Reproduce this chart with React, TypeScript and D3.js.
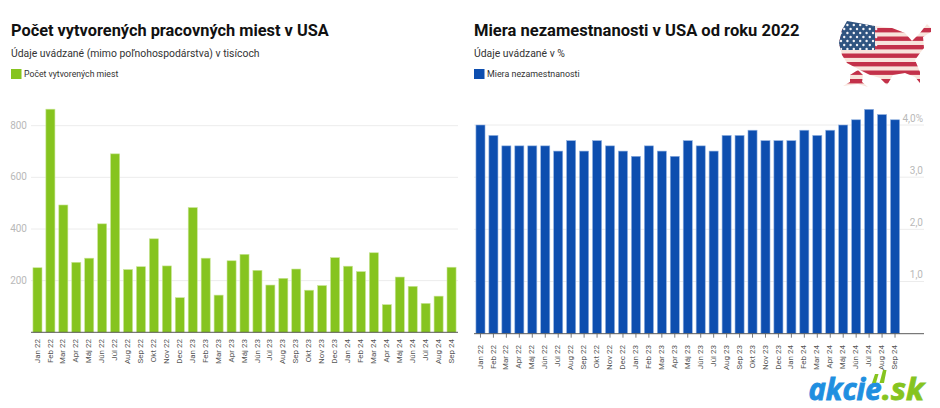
import * as d3 from 'd3';

const months = [
  'Jan 22', 'Feb 22', 'Mar 22', 'Apr 22', 'Máj 22', 'Jún 22', 'Júl 22', 'Aug 22', 'Sep 22', 'Okt 22', 'Nov 22', 'Dec 22',
  'Jan 23', 'Feb 23', 'Mar 23', 'Apr 23', 'Máj 23', 'Jún 23', 'Júl 23', 'Aug 23', 'Sep 23', 'Okt 23', 'Nov 23', 'Dec 23',
  'Jan 24', 'Feb 24', 'Mar 24', 'Apr 24', 'Máj 24', 'Jún 24', 'Júl 24', 'Aug 24', 'Sep 24',
];

const jobs = [
  250, 864, 493, 271, 287, 420, 691, 243, 254, 362, 257, 134,
  483, 287, 144, 277, 302, 240, 183, 209, 245, 163, 181, 289,
  256, 235, 308, 107, 214, 178, 112, 140, 252,
];

const unemployment = [
  4.0, 3.8, 3.6, 3.6, 3.6, 3.6, 3.5, 3.7, 3.5, 3.7, 3.6, 3.5,
  3.4, 3.6, 3.5, 3.4, 3.7, 3.6, 3.5, 3.8, 3.8, 3.9, 3.7, 3.7,
  3.7, 3.9, 3.8, 3.9, 4.0, 4.1, 4.3, 4.2, 4.1,
];

const jobsTicks = [200, 400, 600, 800];
const unemploymentTicks = [1, 2, 3, 4];

const FONT = 'Roboto, sans-serif';

function BarPanel({
  title,
  titleSize,
  subtitle,
  legend,
  legendSize,
  values,
  ticks,
  tickLabel,
  domain,
  color,
  border,
  textX,
  left,
  bandRight,
  lineRight,
  yBase,
  yTop,
  labelTop,
  labelRight,
  showTicks,
}: {
  title: string;
  titleSize: number;
  subtitle: string;
  legend: string;
  legendSize: number;
  values: number[];
  ticks: number[];
  tickLabel: (t: number) => string;
  domain: number;
  color: string;
  border: string;
  textX: number;
  left: number;
  bandRight: number;
  lineRight: number;
  yBase: number;
  yTop: number;
  labelTop: number;
  labelRight: boolean;
  showTicks: boolean;
}) {
  const x = d3.scaleBand<string>().domain(months).range([left, bandRight]).paddingInner(0.3).paddingOuter(0.15);
  const y = d3.scaleLinear().domain([0, domain]).range([yBase, yTop]);

  return (
    <g>
      <text x={textX} y={36} fontSize={titleSize} fontWeight={700} fill="#111">{title}</text>
      <text x={textX} y={57} fontSize={10.4} fill="#333">{subtitle}</text>
      <rect x={textX} y={69} width={10.5} height={10} fill={color} />
      <text x={textX + 13} y={77} fontSize={legendSize} fill="#333">{legend}</text>

      {ticks.map(t => (
        <g key={t}>
          <line x1={left} x2={lineRight} y1={y(t)} y2={y(t)} stroke="#ececec" strokeWidth={1} />
          <text
            x={labelRight ? lineRight - 1 : left - 4}
            y={labelRight ? y(t) - 6 : y(t) + 0.5}
            textAnchor="end"
            dominantBaseline="middle"
            fontSize={10}
            fill="#b9b9b9"
          >
            {tickLabel(t)}
          </text>
        </g>
      ))}

      {values.map((v, i) => (
        <rect
          key={months[i]}
          x={x(months[i])}
          y={y(v)}
          width={x.bandwidth()}
          height={yBase - y(v)}
          fill={color}
          stroke={border}
          strokeWidth={0.6}
        />
      ))}

      <line x1={left} x2={lineRight} y1={yBase} y2={yBase} stroke="#5a5a5a" strokeWidth={1} />

      {months.map(m => {
        const cx = (x(m) as number) + x.bandwidth() / 2;
        return (
          <g key={m} transform={`translate(${cx},${labelTop})`}>
            {showTicks && <line y1={yBase - labelTop} y2={yBase - labelTop + 4} stroke="#5a5a5a" strokeWidth={0.8} />}
            <text
              transform="rotate(-90)"
              textAnchor="end"
              dominantBaseline="middle"
              fontSize={8}
              fill="#555"
            >
              {m}
            </text>
          </g>
        );
      })}
    </g>
  );
}

// Decorative flag-shaped map in the top right corner
const MAP_MAIN = 'M847 21 L875 26 L892 28 L905 33 L912 41 L920 33 L927 24 L931 28 L931 32 L923 37 L924 48 L920 53 L915 60 L920 72 L920 83 L915 77 L905 73 L893 75 L887 85 L880 78 L870 75 L860 70 L847 63 L842 55 L839 43 L842 30 Z';
const MAP_ALASKA = 'M850 75 L858 70 L863 75 L862 82 L868 87 L858 84 L843 86 L850 82 Z';
const stripeRows = d3.range(0, 8);
const starRows = d3.range(0, 7);
const starCols = d3.range(0, 6);

function FlagMap() {
  return (
    <g>
      <defs>
        <clipPath id="usa">
          <path d={MAP_MAIN} />
          <path d={MAP_ALASKA} />
        </clipPath>
      </defs>
      <g clipPath="url(#usa)">
        <rect x={835} y={18} width={100} height={75} fill="#f8e4dc" />
        {stripeRows.map(i => (
          <rect key={i} x={835} y={28 + i * 8.5} width={100} height={4.4} fill="#c3314a" />
        ))}
        <rect x={835} y={18} width={40} height={32} fill="#2f5480" />
        {starRows.map(r =>
          starCols.map(c => (
            <circle
              key={`${r}-${c}`}
              cx={841 + c * 6.4 + (r % 2 ? 3.2 : 0)}
              cy={25 + r * 4}
              r={1.2}
              fill="#f3f3f6"
            />
          )),
        )}
      </g>
    </g>
  );
}

function Logo() {
  return (
    <g fontFamily="'Open Sans', sans-serif" fontWeight={700} fontStyle="italic" fontSize={30} strokeWidth={0.9}>
      <text x={808.5} y={400} textLength={73} lengthAdjust="spacingAndGlyphs" fill="#1f8fe0" stroke="#1f8fe0">akcie</text>
      <text x={882} y={400} textLength={42} lengthAdjust="spacingAndGlyphs" fill="#86c41f" stroke="#86c41f">.sk</text>
      <path d="M872 383 L875 374 L878.5 374 L876 383 Z" fill="#86c41f" />
      <path d="M879.5 383 L883 370 L886.5 370 L884 383 Z" fill="#86c41f" />
    </g>
  );
}

export default function App() {
  return (
    <svg
      width={940}
      height={408}
      style={{ position: 'absolute', top: 0, left: 0, display: 'block', background: '#fff' }}
      fontFamily={FONT}
    >
      <BarPanel
        title="Počet vytvorených pracovných miest v USA"
        titleSize={16.35}
        subtitle="Údaje uvádzané (mimo poľnohospodárstva) v tisícoch"
        legend="Počet vytvorených miest"
        legendSize={8.7}
        values={jobs}
        ticks={jobsTicks}
        tickLabel={t => String(t)}
        domain={800}
        color="#86c41f"
        border="#c9e596"
        textX={11}
        left={31}
        bandRight={458}
        lineRight={458}
        yBase={332.3}
        yTop={125.7}
        labelTop={339}
        labelRight={false}
        showTicks={false}
      />
      <BarPanel
        title="Miera nezamestnanosti v USA od roku 2022"
        titleSize={16.55}
        subtitle="Údaje uvádzané v %"
        legend="Miera nezamestnanosti"
        legendSize={8.9}
        values={unemployment}
        ticks={unemploymentTicks}
        tickLabel={t => (t === 4 ? '4,0%' : `${t},0`)}
        domain={4}
        color="#0d4eaf"
        border="#8fb0e0"
        textX={474}
        left={474}
        bandRight={901.5}
        lineRight={924}
        yBase={333.7}
        yTop={125}
        labelTop={345}
        labelRight={true}
        showTicks={true}
      />
      <FlagMap />
      <Logo />
    </svg>
  );
}
